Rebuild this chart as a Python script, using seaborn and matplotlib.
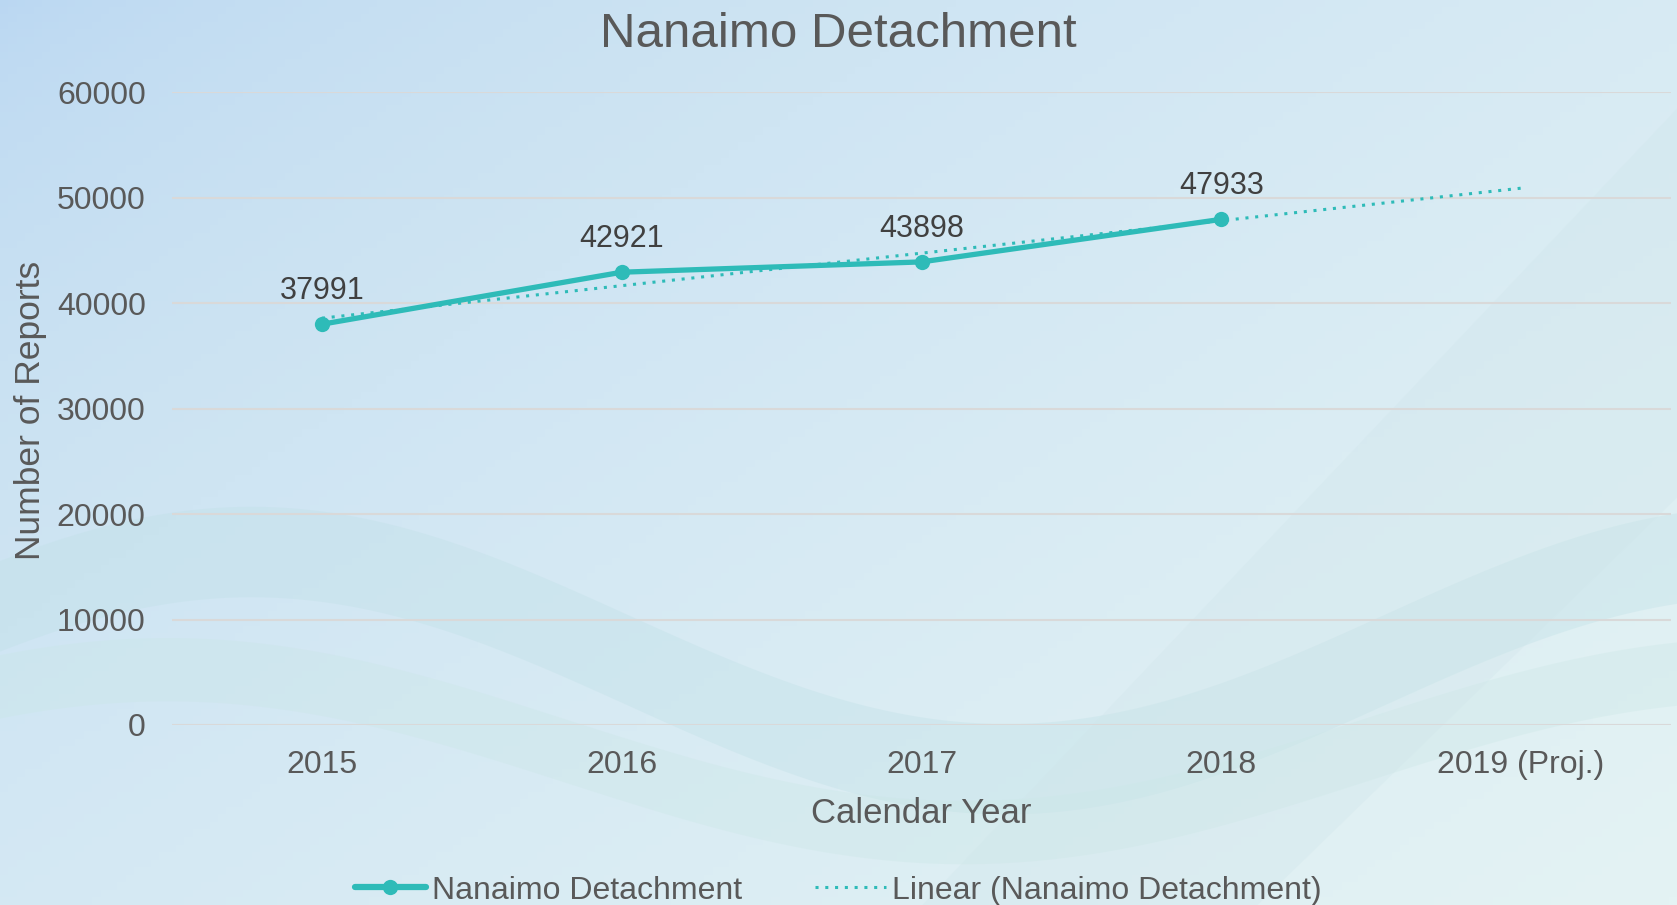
import numpy as np
import pandas as pd
import seaborn as sns
import matplotlib.pyplot as plt
from matplotlib.lines import Line2D

# data
years = ['2015', '2016', '2017', '2018', '2019 (Proj.)']
reports = [37991, 42921, 43898, 47933]
yticks = [0, 10000, 20000, 30000, 40000, 50000, 60000]

teal = '#2EBBB8'
text_dark = '#404040'
text_gray = '#595959'

sns.set_style('white')
plt.rcParams['font.family'] = ['Liberation Sans', 'DejaVu Sans']

fig = plt.figure(figsize=(16.77, 9.05), dpi=100)

# background gradient + faint waves
bg = fig.add_axes([0, 0, 1, 1], zorder=0)
nx, ny = 200, 120
gx, gy = np.meshgrid(np.linspace(0, 1, nx), np.linspace(0, 1, ny))
t = np.clip(0.55 * gx + 0.45 * gy, 0, 1) ** 0.6
c0 = np.array([186, 215, 242]) / 255
c1 = np.array([228, 243, 244]) / 255
img = c0[None, None, :] * (1 - t[..., None]) + c1[None, None, :] * t[..., None]
bg.imshow(img, extent=[0, 1, 1, 0], aspect='auto', origin='upper')
wx = np.linspace(0, 1, 300)
mid = 0.73 - 0.12 * np.cos(2 * np.pi * (wx - 0.15) / 0.9)
bg.fill_between(wx, mid - 0.05, mid + 0.05, color='#bfe0e6', alpha=0.35, lw=0)
mid2 = 0.83 - 0.09 * np.cos(2 * np.pi * (wx - 0.10) / 0.95)
bg.fill_between(wx, mid2 - 0.035, mid2 + 0.035, color='#c8e6e4', alpha=0.3, lw=0)
bg.fill([0.55, 1.0, 1.0, 0.75], [1.0, 0.12, 0.55, 1.0], color='#cfe5ea',
        alpha=0.3, lw=0)
bg.set_xlim(0, 1)
bg.set_ylim(1, 0)
bg.set_axis_off()

ax = fig.add_axes([0.1026, 0.1989, 0.8938, 0.6994], zorder=1)
ax.patch.set_alpha(0)

df = pd.DataFrame({'x': np.arange(len(reports)), 'y': reports})
sns.lineplot(data=df, x='x', y='y', ax=ax, color=teal, lw=3.8,
             marker='o', markersize=11, markeredgewidth=0, zorder=4)

# linear trend, extended to projection year
coef = np.polyfit(df['x'], df['y'], 1)
tx = np.arange(len(years))
ax.plot(tx, np.polyval(coef, tx), color=teal, lw=2.2, ls=(0, (1, 2.2)),
        zorder=3)

for xi, yi in zip(df['x'], df['y']):
    ax.annotate(str(yi), (xi, yi), xytext=(0, 13), textcoords='offset points',
                ha='center', va='bottom', fontsize=22, color=text_dark)

ax.set_xlim(-0.5, len(years) - 0.5)
ax.set_ylim(0, 60000)
ax.set_xticks(range(len(years)))
ax.set_xticklabels(years)
ax.set_yticks(yticks)
ax.tick_params(axis='both', labelsize=23, colors=text_gray, length=0)
ax.tick_params(axis='x', pad=18)
ax.tick_params(axis='y', pad=19)
ax.grid(axis='y', color='#D9D9D9', lw=1.5)
ax.set_axisbelow(True)
for s in ax.spines.values():
    s.set_visible(False)

ax.set_xlabel('Calendar Year', fontsize=25, color=text_gray, labelpad=12)
ax.set_ylabel('Number of Reports', fontsize=25.5, color=text_gray)
ax.yaxis.set_label_coords(0.018, 0.547, transform=fig.transFigure)
ax.yaxis.label.set_va('center')

fig.suptitle('Nanaimo Detachment', fontsize=35.5, color=text_gray,
             x=0.5, y=0.962, va='center')

handles = [Line2D([], [], color=teal, lw=4.5, marker='o', markersize=11,
                  markeredgewidth=0),
           Line2D([], [], color=teal, lw=2.2, ls=(0, (1, 2.2)))]
fig.legend(handles, ['Nanaimo Detachment', 'Linear (Nanaimo Detachment)'],
           loc='center', bbox_to_anchor=(0.5, 0.016), ncol=2, frameon=False,
           fontsize=23, labelcolor=text_gray, handlelength=2.2,
           handletextpad=0.2, columnspacing=2.3)

fig.savefig('out.png', dpi=100)
